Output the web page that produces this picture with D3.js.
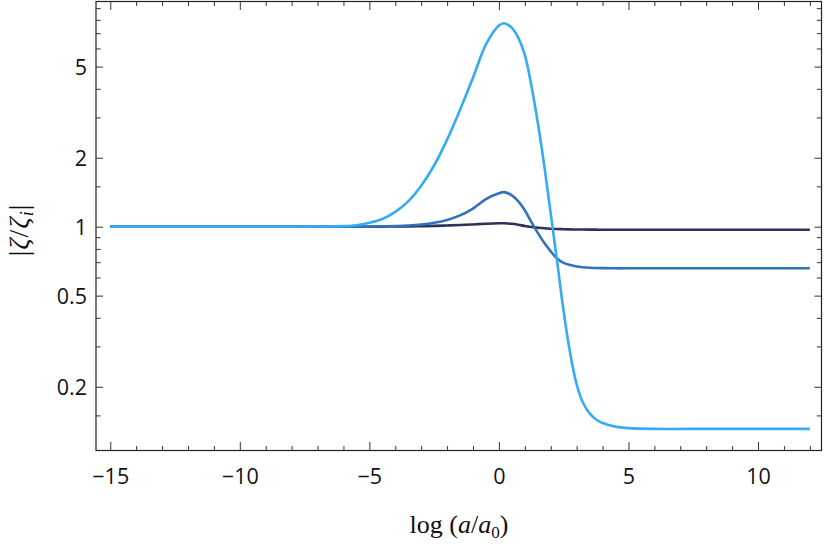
<!DOCTYPE html>
<html>
<head>
<meta charset="utf-8">
<script src="https://cdn.jsdelivr.net/npm/d3@7"></script>
<style>
  html, body { margin: 0; padding: 0; background: #fff; }
  svg { display: block; }
  .tick-label { font-family: "Open Sans", "DejaVu Sans", sans-serif; font-size: 21.5px; fill: #111; }
  .title { font-family: "Liberation Serif", "DejaVu Serif", serif; font-size: 26px; fill: #111; }
</style>
</head>
<body>
<svg id="chart" width="830" height="546"></svg>
<script>
// ---- data ----
const xValues = [-15, -10, -8, -7, -6, -5.5, -5, -4.5, -4, -3.5, -3, -2.5, -2, -1.5, -1, -0.5, 0, 0.2, 0.5, 0.75, 1, 1.25, 1.5, 1.75, 2, 2.25, 2.5, 2.75, 3, 3.25, 3.5, 3.75, 4, 4.5, 5, 6, 8, 10, 12];
const seriesDark  = [1, 1, 1, 1, 1, 1, 1, 1.001, 1.002, 1.003, 1.005, 1.008, 1.012, 1.017, 1.023, 1.03, 1.035, 1.035, 1.03, 1.02, 1.007, 0.997, 0.99, 0.984, 0.98, 0.977, 0.975, 0.973, 0.972, 0.9715, 0.971, 0.9705, 0.97, 0.97, 0.97, 0.97, 0.97, 0.97, 0.97];
const seriesMid   = [1, 1, 1, 1, 1, 1, 1.002, 1.004, 1.007, 1.012, 1.022, 1.04, 1.07, 1.12, 1.2, 1.32, 1.40, 1.415, 1.37, 1.29, 1.18, 1.05, 0.94, 0.85, 0.78, 0.725, 0.695, 0.68, 0.67, 0.665, 0.662, 0.66, 0.659, 0.658, 0.658, 0.658, 0.658, 0.658, 0.658];
const seriesLight = [1, 1, 1, 1.002, 1.006, 1.015, 1.04, 1.08, 1.16, 1.29, 1.51, 1.85, 2.40, 3.24, 4.47, 6.25, 7.56, 7.73, 7.38, 6.67, 5.62, 4.15, 2.85, 1.85, 1.14, 0.70, 0.425, 0.28, 0.205, 0.170, 0.153, 0.144, 0.139, 0.134, 0.132, 0.131, 0.131, 0.131, 0.131];
const seriesColors = ["#2c325c", "#3471bd", "#35aaf7"];
const xMajorTicks = [-15, -10, -5, 0, 5, 10];
const xMinorTicks = d3.range(-15, 13, 1).filter(v => v % 5 !== 0);
const yMajorTicks = [0.2, 0.5, 1, 2, 5];
const yMajorLabels = ["0.2", "0.5", "1", "2", "5"];
const yMinorTicks = [0.15, 0.3, 0.4, 0.6, 0.7, 0.8, 0.9, 1.5, 3, 4, 6, 7, 8, 9];

// ---- layout ----
const svg = d3.select("#chart");
const L = 96, R = 821.5, T = 1.5, B = 450.5;
const x = d3.scaleLinear().domain([-15.55, 12.45]).range([L, R]);
const y = d3.scaleLog().domain([0.1054, 9.62]).range([B, T]);

// frame
svg.append("rect").attr("x", L).attr("y", T).attr("width", R - L).attr("height", B - T)
  .attr("fill", "none").attr("stroke", "#222").attr("stroke-width", 1.2);

function xAxis(g, ticks, len, orient, labels) {
  const ax = (orient === "bottom" ? d3.axisBottom(x) : d3.axisTop(x))
    .tickValues(ticks).tickSizeInner(-len).tickSizeOuter(0)
    .tickFormat(labels ? (d => d < 0 ? "\u2212" + Math.abs(d) : String(d)) : "");
  g.call(ax);
  g.select(".domain").remove();
  g.selectAll(".tick line").attr("stroke", "#333").attr("stroke-width", 1);
  return g;
}
function yAxis(g, ticks, len, orient, labels) {
  const ax = (orient === "left" ? d3.axisLeft(y) : d3.axisRight(y))
    .tickValues(ticks).tickSizeInner(-len).tickSizeOuter(0)
    .tickFormat(labels ? ((d, i) => yMajorLabels[i]) : "");
  g.call(ax);
  g.select(".domain").remove();
  g.selectAll(".tick line").attr("stroke", "#333").attr("stroke-width", 1);
  return g;
}

const gxb = xAxis(svg.append("g").attr("transform", `translate(0,${B})`), xMajorTicks, 8.5, "bottom", true);
gxb.selectAll(".tick text").attr("class", "tick-label").attr("dy", null).attr("y", 33).attr("font-size", null).attr("font-family", null);
xAxis(svg.append("g").attr("transform", `translate(0,${B})`), xMinorTicks, 4.5, "bottom", false);
xAxis(svg.append("g").attr("transform", `translate(0,${T})`), xMajorTicks, 8.5, "top", false);
xAxis(svg.append("g").attr("transform", `translate(0,${T})`), xMinorTicks, 4.5, "top", false);

const gyl = yAxis(svg.append("g").attr("transform", `translate(${L},0)`), yMajorTicks, 7, "left", true);
gyl.selectAll(".tick text").attr("class", "tick-label").attr("x", -9).attr("dy", "0.36em").attr("font-size", null).attr("font-family", null);
yAxis(svg.append("g").attr("transform", `translate(${L},0)`), yMinorTicks, 4.7, "left", false);
yAxis(svg.append("g").attr("transform", `translate(${R},0)`), yMajorTicks, 7, "right", false);
yAxis(svg.append("g").attr("transform", `translate(${R},0)`), yMinorTicks, 4.7, "right", false);
svg.selectAll(".tick text").filter(function(){ return this.textContent === ""; }).remove();

// lines
const series = [seriesDark, seriesMid, seriesLight];
const line = d3.line().x(d => x(d[0])).y(d => y(d[1])).curve(d3.curveCatmullRom.alpha(0.5));
svg.append("clipPath").attr("id", "clip").append("rect")
  .attr("x", L).attr("y", T).attr("width", R - L).attr("height", B - T);
series.forEach((s, i) => {
  svg.append("path")
    .datum(xValues.map((xv, j) => [xv, s[j]]))
    .attr("d", line)
    .attr("fill", "none")
    .attr("stroke", seriesColors[i])
    .attr("stroke-width", 2.6)
    .attr("stroke-linejoin", "round")
    .attr("clip-path", "url(#clip)");
});

// axis titles
const xt = svg.append("text").attr("class", "title").attr("x", 459).attr("y", 533).attr("text-anchor", "middle");
xt.append("tspan").text("log (");
xt.append("tspan").attr("font-style", "italic").text("a");
xt.append("tspan").text("/");
xt.append("tspan").attr("font-style", "italic").text("a");
xt.append("tspan").attr("font-size", "17px").attr("dy", "5").text("0");
xt.append("tspan").attr("dy", "-5").text(")");

const yt = svg.append("text").attr("class", "title").style("font-size", "28px").style("letter-spacing", "1px")
  .attr("transform", "translate(28,230) rotate(-90)").attr("text-anchor", "middle");
yt.append("tspan").text("|");
yt.append("tspan").attr("font-style", "italic").text("\u03b6");
yt.append("tspan").text("/");
yt.append("tspan").attr("font-style", "italic").text("\u03b6");
yt.append("tspan").attr("font-style", "italic").attr("font-size", "18px").attr("dy", "5").text("i");
yt.append("tspan").attr("dy", "-5").text("|");
</script>
</body>
</html>
